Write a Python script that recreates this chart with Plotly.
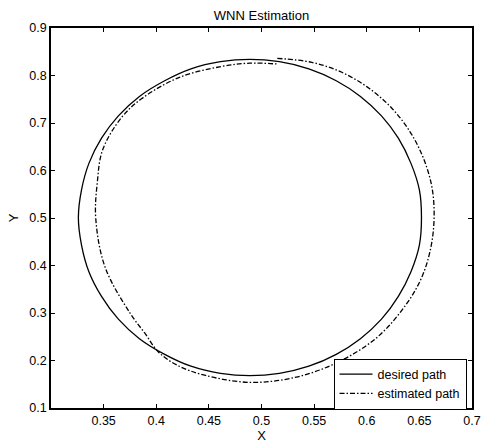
import plotly.graph_objects as go

# Desired path
desired_x = [0.652, 0.650, 0.642, 0.630, 0.614, 0.594, 0.571, 0.545, 0.517, 0.489,
             0.461, 0.433, 0.408, 0.384, 0.364, 0.348, 0.336, 0.329, 0.326, 0.329,
             0.336, 0.348, 0.364, 0.384, 0.408, 0.433, 0.461, 0.489, 0.517, 0.545,
             0.571, 0.594, 0.614, 0.630, 0.642, 0.650, 0.652]
desired_y = [0.501, 0.559, 0.615, 0.668, 0.715, 0.756, 0.789, 0.814, 0.829, 0.834,
             0.829, 0.814, 0.789, 0.756, 0.715, 0.668, 0.615, 0.559, 0.501, 0.443,
             0.387, 0.335, 0.287, 0.246, 0.213, 0.188, 0.173, 0.168, 0.173, 0.188,
             0.213, 0.246, 0.287, 0.335, 0.387, 0.443, 0.501]

# Estimated path
est_x = [0.515, 0.547, 0.575, 0.601, 0.623, 0.641, 0.654, 0.662, 0.664, 0.661,
         0.653, 0.639, 0.611, 0.574, 0.533, 0.489, 0.446, 0.420, 0.402, 0.389,
         0.375, 0.3513, 0.3425, 0.344, 0.349, 0.3665, 0.386, 0.422, 0.462, 0.489,
         0.516]
est_y = [0.836, 0.828, 0.808, 0.775, 0.733, 0.682, 0.625, 0.564, 0.501, 0.439,
         0.379, 0.323, 0.251, 0.198, 0.165, 0.154, 0.169, 0.190, 0.218, 0.258,
         0.300, 0.397, 0.500, 0.575, 0.643, 0.710, 0.751, 0.796, 0.819, 0.826,
         0.824]

x_ticks = [0.35, 0.4, 0.45, 0.5, 0.55, 0.6, 0.65, 0.7]
x_tick_text = ["0.35", "0.4", "0.45", "0.5", "0.55", "0.6", "0.65", "0.7"]
y_ticks = [0.1, 0.2, 0.3, 0.4, 0.5, 0.6, 0.7, 0.8, 0.9]
y_tick_text = ["0.1", "0.2", "0.3", "0.4", "0.5", "0.6", "0.7", "0.8", "0.9"]

font = "Liberation Sans, Arial, sans-serif"

fig = go.Figure()
fig.add_trace(go.Scatter(x=desired_x, y=desired_y, mode="lines", name="desired path",
                         line=dict(color="black", width=1.3, shape="spline", smoothing=1.0)))
fig.add_trace(go.Scatter(x=est_x, y=est_y, mode="lines", name="estimated path",
                         line=dict(color="black", width=1.3, dash="5px,2px,1.5px,2px",
                                   shape="spline", smoothing=1.0)))

axis_common = dict(showgrid=False, zeroline=False, showline=True, linecolor="black",
                   linewidth=1.5, mirror="ticks", ticks="inside", ticklen=4,
                   tickcolor="black", tickwidth=1, automargin=False,
                   tickfont=dict(family=font, size=12.5, color="black"))

fig.update_layout(
    width=481, height=443,
    margin=dict(l=51, r=9, t=28, b=35),
    paper_bgcolor="white", plot_bgcolor="white",
    title=dict(text="WNN Estimation", xref="paper", x=0.5, xanchor="center",
               y=0.966, yanchor="middle",
               font=dict(family=font, size=13, color="black")),
    xaxis=dict(range=[0.3, 0.7], tickvals=x_ticks, ticktext=x_tick_text,
               ticklabeloverflow="allow",
               title=dict(text="X", font=dict(family=font, size=13, color="black"), standoff=0),
               **axis_common),
    yaxis=dict(range=[0.1, 0.9], tickvals=y_ticks, ticktext=y_tick_text,
               title=dict(text="Y", font=dict(family=font, size=13, color="black"), standoff=8),
               **axis_common),
    legend=dict(x=0.987, y=-0.004, xanchor="right", yanchor="bottom",
                bordercolor="black", borderwidth=1, bgcolor="white",
                font=dict(family=font, size=12.5, color="black"),
                tracegroupgap=0, itemwidth=33),
    showlegend=True,
)

fig.write_html("out.html", config={"displayModeBar": False},
               post_script="document.body.style.margin='0';document.body.style.overflow='hidden';")
